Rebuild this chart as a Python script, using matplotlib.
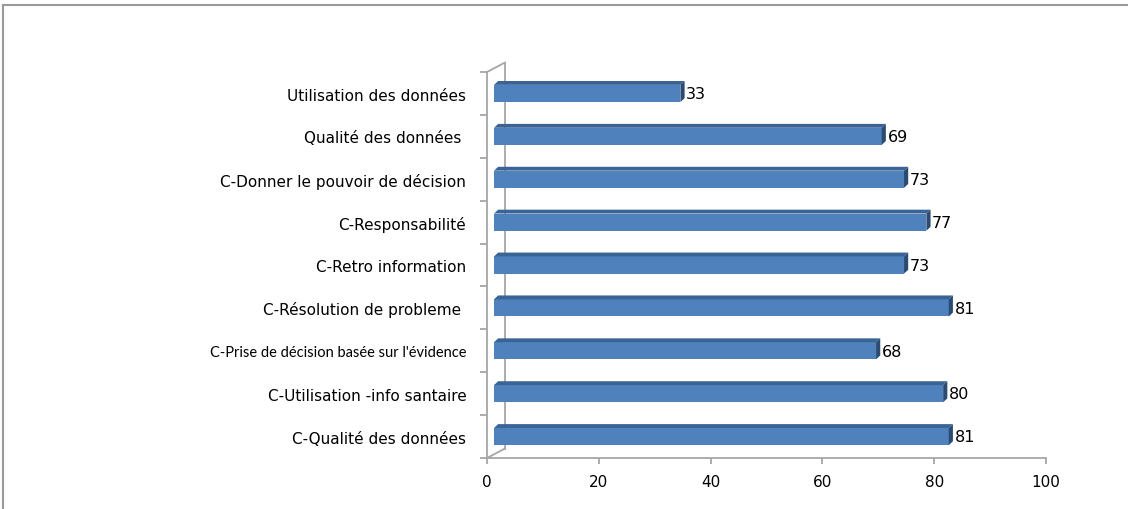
import matplotlib.pyplot as plt
from matplotlib.patches import Polygon, Rectangle
from matplotlib.lines import Line2D

# Données du graphique
categories = [
    "Utilisation des données",
    "Qualité des données ",
    "C-Donner le pouvoir de décision",
    "C-Responsabilité",
    "C-Retro information",
    "C-Résolution de probleme ",
    "C-Prise de décision basée sur l'évidence",
    "C-Utilisation -info santaire",
    "C-Qualité des données",
]
values = [33, 69, 73, 77, 73, 81, 68, 80, 81]
x_ticks = [0, 20, 40, 60, 80, 100]

plt.rcParams['font.family'] = ['DejaVu Sans']

fig = plt.figure(figsize=(11.28, 5.09), dpi=100)
ax = fig.add_axes([487 / 1128, 1 - 458 / 509, (1046 - 487) / 1128, (458 - 72) / 509])

n = len(categories)
ax.set_xlim(0, 100)
ax.set_ylim(n - 0.5, -0.5)

front = "#4F81BD"
top = "#3A6396"
side = "#2C4B73"
axis_col = "#A6A6A6"

# mur 3D (effet de profondeur)
wdx, wdy = 3.2, 0.22
ax.plot([wdx, wdx], [n - 0.5 - wdy, -0.5 - wdy], color=axis_col, lw=1.3, zorder=1, clip_on=False)
ax.plot([0, wdx], [n - 0.5, n - 0.5 - wdy], color=axis_col, lw=1.3, zorder=1, clip_on=False)
ax.plot([0, wdx], [-0.5, -0.5 - wdy], color=axis_col, lw=1.3, zorder=1, clip_on=False)

# barres 3D
h = 0.4
bdx, bdy = 0.75, 0.09
for i, v in enumerate(values):
    x0, x1 = 1.25, v + 1.6
    yt, yb = i - h / 2, i + h / 2
    ax.add_patch(Rectangle((x0, yt), x1 - x0, h, facecolor=front, edgecolor="none", zorder=3))
    ax.add_patch(Polygon([(x0, yt), (x1, yt), (x1 + bdx, yt - bdy), (x0 + bdx, yt - bdy)],
                         closed=True, facecolor=top, edgecolor="none", zorder=3))
    ax.add_patch(Polygon([(x1, yb), (x1, yt), (x1 + bdx, yt - bdy), (x1 + bdx, yb - bdy)],
                         closed=True, facecolor=side, edgecolor="none", zorder=3))
    ax.text(x1 + bdx + 0.3, i + 0.03, str(v), va="center", ha="left", fontsize=11.5, color="black")

# axes
for s in ["top", "right"]:
    ax.spines[s].set_visible(False)
ax.spines["left"].set_color(axis_col)
ax.spines["bottom"].set_color(axis_col)
ax.spines["left"].set_linewidth(1.3)
ax.spines["bottom"].set_linewidth(1.3)

ax.set_xticks(x_ticks)
ax.set_xticklabels([str(t) for t in x_ticks], fontsize=11)
ax.tick_params(axis="x", length=4, color=axis_col, width=1.3, pad=8)

ax.set_yticks([i - 0.5 for i in range(n + 1)])
ax.set_yticklabels([])
ax.tick_params(axis="y", length=5, color=axis_col, width=1.3)

# libellés des catégories (le plus long est plus serré dans l'original)
trans = ax.get_yaxis_transform()
for i, lab in enumerate(categories):
    kw = dict(fontsize=11)
    if len(lab) > 35:
        kw = dict(fontsize=10.5, family=['Lato', 'DejaVu Sans'])
    ax.text(-0.037, i + 0.06, lab, transform=trans, ha="right", va="center", **kw)

# cadre extérieur
fig.add_artist(Line2D([3 / 1128, 1], [1 - 5 / 509, 1 - 5 / 509], color="#999999", lw=1.5))
fig.add_artist(Line2D([3 / 1128, 3 / 1128], [0, 1 - 5 / 509], color="#999999", lw=1.5))

fig.savefig("out.png", dpi=100)
